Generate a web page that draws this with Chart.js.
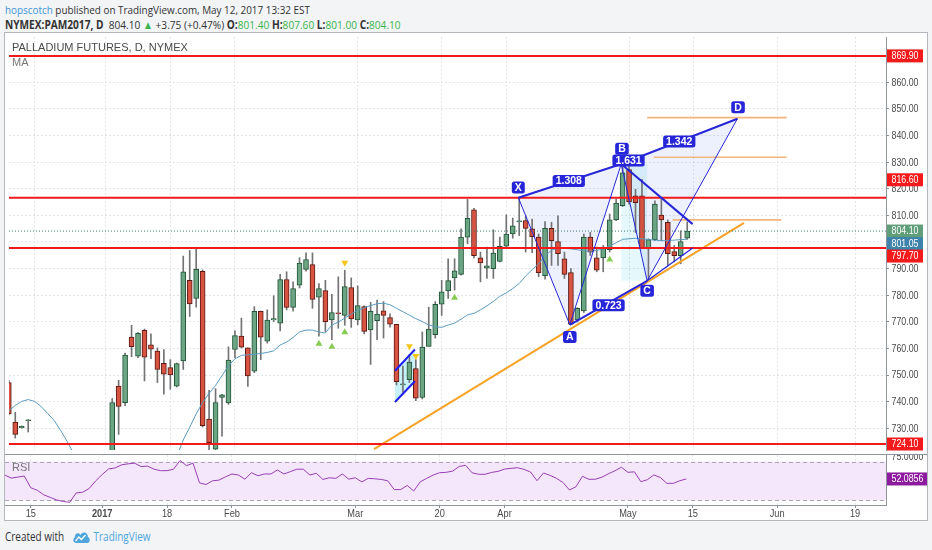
<!DOCTYPE html>
<html><head><meta charset="utf-8">
<script src="https://cdn.jsdelivr.net/npm/chart.js@4.4.0/dist/chart.umd.min.js"></script>
<style>
html,body{margin:0;padding:0;width:932px;height:550px;overflow:hidden;background:#f2f4f6;font-family:"Open Sans","Liberation Sans",Arial,sans-serif;}
#h1{position:absolute;left:5px;top:2px;font-size:11.5px;color:#333;white-space:nowrap;line-height:15px;transform:scaleX(0.86);transform-origin:0 0;}
#h2{position:absolute;left:5px;top:17px;font-size:11.5px;color:#333;white-space:nowrap;line-height:15px;transform:scaleX(0.88);transform-origin:0 0;}
#h2 .g{color:#3ab54a;}
#box{position:absolute;left:4px;top:32px;width:922px;height:487px;background:#fff;border:1px solid #b4b8bd;}
#main{position:absolute;left:0;top:0;}
#rsi{position:absolute;left:0;top:421px;}
#sep{position:absolute;left:0;top:421px;width:922px;height:1px;background:#8f959b;}
.ttl{position:absolute;font-size:11px;color:#4a4a4a;white-space:nowrap;font-family:"Liberation Sans",Arial,sans-serif;}
#foot{position:absolute;left:5px;top:528px;font-size:12px;color:#333;white-space:nowrap;display:flex;align-items:center;transform:scaleX(0.83);transform-origin:0 0;}
#foot .tv{color:#4ea6dc;margin-left:4px;}
</style></head>
<body>
<div id="h1"><span style="color:#3d95d6">hopscotch</span> published on TradingView.com, May 12, 2017 13:32 EST</div>
<div id="h2"><b>NYMEX:PAM2017, D</b>&nbsp; 804.10 <span class="g">&#9650;</span> +3.75 (+0.47%) <b>O:</b><span class="g">801.40</span> <b>H:</b><span class="g">807.60</span> <b>L:</b><span class="g">801.00</span> <b>C:</b><span class="g">804.10</span></div>
<div id="box">
  <canvas id="main" width="922" height="421"></canvas>
  <canvas id="rsi" width="922" height="66"></canvas>
  <div id="sep"></div>
  <div class="ttl" style="left:7px;top:8px;">PALLADIUM FUTURES, D, NYMEX</div>
  <div class="ttl" style="left:7px;top:23px;color:#777;">MA</div>
  <div class="ttl" style="left:7px;top:428px;color:#777;">RSI</div>
</div>
<div id="foot">Created with&nbsp;&nbsp;&nbsp;<svg width="22" height="14" viewBox="0 0 22 14"><path d="M5 13 C1 13 0 9 3 7.5 C3 3 8 2 10 5 C12 1 19 2 19 7 C22 8 22 13 18 13 Z" fill="#4ea6dc"/><path d="M4 11 L8 7 L11 9.5 L16 5" stroke="#fff" stroke-width="1.6" fill="none"/></svg><span class="tv">TradingView</span></div>

<script>
// ---------- DATA ----------
const dates = ['12-09','12-12','12-13','12-14','12-15','12-16','12-19','12-20','12-21','12-22','12-23','12-27','12-28','12-29','12-30',
'01-03','01-04','01-05','01-06','01-09','01-10','01-11','01-12','01-13','01-17','01-18','01-19','01-20','01-23','01-24','01-25','01-26','01-27','01-30','01-31',
'02-01','02-02','02-03','02-06','02-07','02-08','02-09','02-10','02-13','02-14','02-15','02-16','02-17','02-21','02-22','02-23','02-24','02-27','02-28',
'03-01','03-02','03-03','03-06','03-07','03-08','03-09','03-10','03-13','03-14','03-15','03-16','03-17','03-20','03-21','03-22','03-23','03-24','03-27','03-28','03-29','03-30','03-31',
'04-03','04-04','04-05','04-06','04-07','04-10','04-11','04-12','04-13','04-17','04-18','04-19','04-20','04-21','04-24','04-25','04-26','04-27','04-28',
'05-01','05-02','05-03','05-04','05-05','05-08','05-09','05-10','05-11','05-12'];
const N12 = [null,null,null,null,null,null,null,null,null,null,null,null];
const open = [747.2,732.3,730.2,732.9, ...N12,
716.0,745.9,739.6,764.3,757.1,766.8,761.4,759.0,754.4,752.8,
745.8,755.3,785.6,778.8,789.0,733.5,722.2,741.6,739.5,759.6,
764.6,760.2,751.5,773.9,762.7,770.7,769.5,785.9,775.4,783.8,
789.7,791.5,779.3,781.7,770.7,773.4,772.4,782.9,770.7,775.7,
767.0,770.4,774.1,771.6,769.1,746.3,748.3,752.4,741.6,760.8,
765.2,776.6,781.6,786.5,787.8,801.8,812.1,794.0,790.2,790.0,
792.7,798.4,803.0,807.5,808.0,804.9,801.8,787.3,805.1,800.1,
793.7,788.5,770.7,774.1,801.8,794.0,794.0,797.1,808.3,813.6,
827.2,817.3,817.3,797.4,800.9,810.1,807.4,796.4,794.9,801.4];
const high = [748.0,736.0,730.9,733.3, ...N12,
741.2,748.0,758.3,768.7,766.0,767.3,765.5,760.2,759.6,755.8,
754.5,794.7,796.8,797.4,789.5,744.3,744.9,742.8,760.6,766.6,
771.4,760.2,775.7,774.0,774.5,779.8,787.8,788.8,785.0,794.1,
795.9,795.9,784.4,785.6,780.3,786.9,789.4,786.5,783.5,776.0,
777.3,778.2,777.6,773.0,769.1,753.4,757.7,755.8,766.2,775.5,
777.6,785.6,793.7,793.7,804.9,816.0,812.6,796.2,798.1,804.6,
801.8,810.2,809.0,816.6,809.8,808.6,803.0,807.7,807.4,809.8,
796.2,790.0,775.3,803.0,803.6,798.1,798.7,810.5,816.1,829.6,
828.7,819.8,823.5,801.2,815.5,816.0,808.3,798.7,804.2,807.6];
const low = [735.0,726.3,730.0,728.6, ...N12,
714.0,727.7,738.5,756.9,756.5,747.8,756.2,747.2,742.8,744.7,
745.5,752.1,772.0,775.5,730.5,721.7,721.5,727.0,739.0,756.5,
760.2,745.7,750.9,755.8,762.0,770.1,766.6,774.5,774.0,782.7,
789.0,775.1,764.6,766.4,763.3,767.6,768.7,767.9,768.9,765.5,
754.0,763.3,763.9,768.0,746.3,743.5,747.2,740.4,741.0,760.8,
763.9,772.4,778.8,781.9,787.5,799.3,794.0,785.0,786.3,786.3,
792.5,798.1,801.4,802.4,796.2,796.0,786.9,786.0,791.2,791.2,
786.3,768.9,769.9,773.5,794.9,788.8,788.8,796.2,808.0,813.3,
814.2,803.6,797.4,785.6,800.5,800.5,791.2,792.5,791.8,801.0];
const close = [735.4,727.7,730.7,733.2, ...N12,
739.7,738.2,757.5,760.7,765.7,756.7,759.7,752.1,750.3,750.1,
754.3,788.8,776.7,789.7,731.0,724.6,739.7,742.6,755.6,764.8,
760.5,749.7,773.9,764.2,770.7,771.2,785.9,775.4,782.5,792.1,
793.4,778.4,782.5,770.1,773.5,773.1,783.2,771.1,776.1,766.4,
773.9,772.9,772.4,769.1,747.5,746.7,754.9,741.3,760.5,767.3,
776.6,781.3,785.5,789.2,801.8,808.9,794.9,792.1,791.0,795.8,
798.4,803.0,806.1,807.9,805.1,802.0,788.5,805.1,800.5,795.6,
787.8,769.1,775.1,801.8,796.2,789.4,797.7,808.3,814.6,826.0,
815.0,814.8,797.7,800.9,814.2,808.3,795.6,794.9,800.1,804.1];
const N14 = [null,null,null,null,null,null,null,null,null,null,null,null,null,null];
const ma = [736.6,738.6,740.1,740.8,740.1,738.2,735.6,733.0,729.3,725.2,720.7,716.0, ...N14,
719.5,725.6,730.4,735.4,739.7,743.1,746.1,749.8,753.5,756.1,
757.4,757.6,757.8,758.1,758.5,759.1,761.3,762.4,764.1,766.2,
766.9,766.9,766.2,765.8,768.8,769.9,771.4,772.9,774.3,775.3,
776.1,776.8,777.0,776.4,775.1,773.8,772.5,771.2,770.1,768.8,
768.2,767.9,768.8,769.5,771.0,772.6,773.2,774.5,776.0,777.7,
779.6,780.9,782.5,784.4,787.2,789.6,791.8,794.8,796.9,797.7,
797.6,797.4,797.1,796.7,796.5,796.8,797.4,798.5,799.7,801.0,
801.2,801.4,801.2,800.9,800.7,800.5,800.5,800.7,800.9,801.05];
const rsi = [56.1,53.0,54.0,55.1,43.1,40.5,35.8,33.2,30.5,29.0,
28.2,37.8,38.5,42.3,50.1,56.6,62.4,63.4,66.6,67.6,
68.3,64.8,65.3,62.1,60.6,60.6,62.1,71.0,65.8,68.3,
48.1,46.4,50.2,50.9,54.3,57.2,56.1,51.9,58.5,55.4,
57.2,57.2,61.3,57.2,59.6,62.1,62.1,56.1,57.9,51.6,
53.3,52.7,57.2,51.9,53.3,49.1,52.7,52.3,51.6,50.2,
41.2,41.2,45.4,39.7,49.1,52.7,56.1,58.5,58.9,60.1,
64.9,66.1,58.4,56.9,56.9,58.8,59.9,62.2,63.0,63.6,
61.9,59.2,50.3,58.2,55.8,52.8,48.5,40.8,44.1,54.8,
51.7,51.8,53.9,57.4,60.5,64.1,58.9,59.4,49.3,51.3,
56.2,53.6,47.6,47.6,50.3,52.0856];

// x-axis tick positions (bar index) and labels
const tickPos  = [4, 15, 25, 35, 54, 67, 77, 96, 106, 119, 131];
const tickText = ['15','2017','18','Feb','Mar','20','Apr','May','15','Jun','19'];
const yTicks = [730,740,750,760,770,780,790,800,810,820,830,840,850,860,870];
const rsiTicks = [75];

// horizontal levels
const redLevels = [869.9, 816.6, 797.7, 724.1];
const lastPrice = 804.1;
const maLast = 801.05;
const rsiLast = 52.0856;

// XABCD pattern
const patName  = ['X','A','B','C','D'];
const patIdx   = [78.87, 86.83, 94.79, 98.8, 112.77];
const patPrice = [816.6, 768.9, 829.3, 785.4, 846.3];
const ratioText  = ['1.308','1.631','1.342','0.723'];
const ratioIdx   = [86.67, 95.92, 103.77, 92.83];
const ratioPrice = [822.9, 830.6, 837.7, 776.2];
const letterIdx   = [78.86, 86.83, 94.9, 98.8, 112.87];
const letterPrice = [820.5, 764.3, 835.0, 781.7, 850.6];

// wedge lines
const wedgeTopIdx = [94.79, 105.84], wedgeTopPrice = [829.3, 806.7];
const wedgeBotIdx = [98.8, 105.84],  wedgeBotPrice = [785.4, 797.7];
// orange lines
const trendIdx = [56.53, 113.79], trendPrice = [722.2, 807.2];
const orangeLevels = [846.7, 831.8, 808.3];
const orangeStart  = [98.8, 99.83, 102.76];
const orangeEnd    = [120.4, 120.4, 119.6];
// flag
const flagIdx = [59.77, 62.85];
const flagUpper = [751.6, 759.6];
const flagLower = [739.9, 747.7];
// pattern markers
const upMarkIdx = [48, 50, 52, 69, 93],  upMarkPrice = [761.8, 760.6, 766.1, 779.0, 793.4];
const downMarkIdx = [52, 62, 63],        downMarkPrice = [792.2, 760.8, 757.2];

// price tags on the axis
const tagValues = [869.9, 816.6, lastPrice, maLast, 797.7, 724.1];
const tagTexts  = ['869.90','816.60','804.10','801.05','797.70','724.10'];
const tagColors = ['#f21a1a','#f21a1a','#5f9e79','#3d83ab','#f21a1a','#f21a1a'];
const tagNudge  = [0,-18,0,0,0,0];

// ---------- STYLE ----------
const X_MIN = 0.03, X_MAX = 135.77;
const Y_MIN = 721.85, Y_MAX = 877.0;
const RSI_MIN = 25.38, RSI_MAX = 76.67;
const UP = '#6ba583', UPB = '#225437', DN = '#d75442', DNB = '#5b1a13', WICK = '#737375';
const BLUE = '#2626d8';
const FONT = '"Liberation Sans", Arial, sans-serif';
const SQUEEZE = 0.84;

// ---------- BUILD ----------
const wickData = [], bodyData = [], bodyFill = [], bodyBorder = [];
for (let k = 0; k < open.length; k++) {
  if (open[k] == null) continue;
  wickData.push({x: k, y: [low[k], high[k]]});
  bodyData.push({x: k, y: [open[k], close[k]]});
  const up = close[k] >= open[k];
  bodyFill.push(up ? UP : DN);
  bodyBorder.push(up ? UPB : DNB);
}
function pts(xs, ys) { return xs.map((x, i) => ({x: x, y: ys[i]})); }
function seg(data, color, width, dash, order) {
  return {type: 'line', data: data, borderColor: color, borderWidth: width, borderDash: dash || [],
    pointRadius: 0, fill: false, tension: 0, order: order == null ? 1 : order, spanGaps: false};
}
const datasets = [
  {type: 'bar', data: wickData, backgroundColor: WICK, barThickness: 1, grouped: false, order: 6, borderWidth: 0},
  {type: 'bar', data: bodyData, backgroundColor: bodyFill, borderColor: bodyBorder, borderWidth: 1,
   borderSkipped: false, barThickness: 5, grouped: false, order: 5},
  seg(ma.map((v, k) => ({x: k, y: v})), '#5a9cc0', 1, [], 4),
];
redLevels.forEach(v => datasets.push(seg(pts([X_MIN, X_MAX], [v, v]), '#f21a1a', 2, [], 3)));
datasets.push(seg(pts([X_MIN, X_MAX], [lastPrice, lastPrice]), '#3f7f6c', 1, [1, 2], 3));
datasets.push(seg(pts(trendIdx, trendPrice), '#f7a326', 2, [], 3));
orangeLevels.forEach((v, i) => datasets.push(seg(pts([orangeStart[i], orangeEnd[i]], [v, v]), '#f5b57c', 1.6, [], 3)));
datasets.push(seg(pts(patIdx, patPrice), BLUE, 1, [], 2));
datasets.push(seg(pts([patIdx[0], patIdx[2], patIdx[4]], [patPrice[0], patPrice[2], patPrice[4]]), BLUE, 2, [], 2));
datasets.push(seg(pts([patIdx[1], patIdx[3]], [patPrice[1], patPrice[3]]), BLUE, 2, [], 2));
datasets.push(seg(pts(wedgeTopIdx, wedgeTopPrice), BLUE, 2, [], 2));
datasets.push(seg(pts(wedgeBotIdx, wedgeBotPrice), BLUE, 1.3, [], 2));
datasets.push(seg(pts(flagIdx, flagUpper), '#1f1ff2', 2, [], 2));
datasets.push(seg(pts(flagIdx, flagLower), '#1f1ff2', 2, [], 2));
datasets.push({type: 'scatter', data: pts(upMarkIdx, upMarkPrice), pointStyle: 'triangle', pointRadius: 4,
  backgroundColor: '#86cc52', borderWidth: 0, order: 1});
datasets.push({type: 'scatter', data: pts(downMarkIdx, downMarkPrice), pointStyle: 'triangle', rotation: 180, pointRadius: 4,
  backgroundColor: '#f5c61c', borderWidth: 0, order: 1});

function px(chart, i, p) { return [chart.scales.x.getPixelForValue(i), chart.scales.y.getPixelForValue(p)]; }
function polygon(chart, idx, price, fill) {
  const ctx = chart.ctx, a = chart.chartArea;
  ctx.save(); ctx.beginPath(); ctx.rect(a.left, a.top, a.right - a.left, a.bottom - a.top); ctx.clip();
  ctx.beginPath();
  idx.forEach((v, i) => { const [x, y] = px(chart, v, price[i]); i ? ctx.lineTo(x, y) : ctx.moveTo(x, y); });
  ctx.closePath(); ctx.fillStyle = fill; ctx.fill(); ctx.restore();
}
function rr(ctx, x, y, w, h, r) {
  ctx.beginPath(); ctx.moveTo(x + r, y); ctx.lineTo(x + w - r, y); ctx.quadraticCurveTo(x + w, y, x + w, y + r);
  ctx.lineTo(x + w, y + h - r); ctx.quadraticCurveTo(x + w, y + h, x + w - r, y + h); ctx.lineTo(x + r, y + h);
  ctx.quadraticCurveTo(x, y + h, x, y + h - r); ctx.lineTo(x, y + r); ctx.quadraticCurveTo(x, y, x + r, y); ctx.closePath();
}
// narrow text: horizontally squeezed to match the reference's condensed UI font
function narrowText(ctx, text, x, y, color, align, font) {
  ctx.save(); ctx.font = font || ('10.5px ' + FONT); ctx.fillStyle = color; ctx.textBaseline = 'middle';
  ctx.textAlign = align || 'left';
  ctx.translate(x, y); ctx.scale(SQUEEZE, 1); ctx.fillText(text, 0, 0); ctx.restore();
}
function labelBox(chart, i, p, text) {
  const ctx = chart.ctx; const [x, y] = px(chart, i, p);
  ctx.save(); ctx.font = 'bold 10.5px ' + FONT;
  const w = Math.max(ctx.measureText(text).width + 6, 12), h = 12;
  rr(ctx, x - w / 2, y - h / 2, w, h, 2.5); ctx.fillStyle = BLUE; ctx.fill();
  ctx.fillStyle = '#fff'; ctx.textAlign = 'center'; ctx.textBaseline = 'middle'; ctx.fillText(text, x, y + 0.5);
  ctx.restore();
}
function axisLabels(chart, fmt) {
  const ys = chart.scales.y;
  ys.ticks.forEach(t => narrowText(chart.ctx, fmt(t.value), ys.left + 5.5, ys.getPixelForValue(t.value) + 0.5, '#4a4a4a'));
}
function drawTags(chart, values, texts, colors, nudges) {
  const ctx = chart.ctx, ys = chart.scales.y, left = ys.left;
  const order = values.map((v, i) => i).sort((a, b) => values[b] - values[a]);
  let prev = -1e9; const yPos = [];
  order.forEach(i => { let y = ys.getPixelForValue(values[i]) + nudges[i]; if (nudges[i] === 0 && y < prev + 12.5) y = prev + 12.5; yPos[i] = y; if (nudges[i] === 0) prev = y; });
  ctx.save(); ctx.font = '10.5px ' + FONT;
  values.forEach((v, i) => {
    const y = yPos[i];
    const w = ctx.measureText(texts[i]).width * SQUEEZE + 9;
    ctx.fillStyle = colors[i]; ctx.fillRect(left + 1, y - 6.5, w, 13);
    narrowText(ctx, texts[i], left + 5.5, y + 0.5, '#fff');
  });
  ctx.restore();
}
const mainPlugin = {
  id: 'mainOverlay',
  beforeDatasetsDraw(chart) {
    polygon(chart, [patIdx[0], patIdx[1], patIdx[2]], [patPrice[0], patPrice[1], patPrice[2]], 'rgba(110,130,240,0.12)');
    polygon(chart, [patIdx[2], patIdx[3], patIdx[4]], [patPrice[2], patPrice[3], patPrice[4]], 'rgba(110,130,240,0.12)');
    polygon(chart, [patIdx[2], patIdx[3], patIdx[3], patIdx[2]], [patPrice[2], patPrice[2], patPrice[3], patPrice[3]], 'rgba(40,200,220,0.12)');
    polygon(chart, [flagIdx[0], flagIdx[1], flagIdx[1], flagIdx[0]], [flagUpper[0], flagUpper[1], flagLower[1], flagLower[0]], 'rgba(40,200,230,0.25)');
  },
  afterDatasetsDraw(chart) {
    patName.forEach((t, i) => labelBox(chart, letterIdx[i], letterPrice[i], t));
    ratioText.forEach((t, i) => labelBox(chart, ratioIdx[i], ratioPrice[i], t));
  },
  afterDraw(chart) {
    axisLabels(chart, v => v.toFixed(2));
    drawTags(chart, tagValues, tagTexts, tagColors, tagNudge);
  }
};

Chart.defaults.font.family = FONT;
Chart.defaults.animation = false;

const xCommon = {
  type: 'linear', min: X_MIN, max: X_MAX, offset: false,
  afterBuildTicks: s => { s.ticks = tickPos.map(v => ({value: v})); },
};

new Chart(document.getElementById('main'), {
  type: 'bar',
  data: {datasets: datasets},
  options: {
    responsive: false, animation: false, layout: {padding: 0},
    plugins: {legend: {display: false}, tooltip: {enabled: false}},
    scales: {
      x: Object.assign({}, xCommon, {
        ticks: {display: false},
        grid: {display: true, color: '#e2e5e9', drawTicks: false, offset: false},
        border: {display: false, dash: [2, 2]},
        afterFit: s => { s.height = 0; s.paddingLeft = 0; s.paddingRight = 0; }
      }),
      y: {
        type: 'linear', position: 'right', min: Y_MIN, max: Y_MAX, beginAtZero: false,
        afterBuildTicks: s => { s.ticks = yTicks.map(v => ({value: v})); },
        ticks: {display: false},
        grid: {color: '#e2e5e9', drawTicks: true, tickLength: 3, tickColor: '#8a8f95'},
        border: {display: true, color: '#8f959b', dash: [2, 2]},
        afterFit: s => { s.width = 41; s.paddingTop = 0; s.paddingBottom = 0; }
      }
    }
  },
  plugins: [mainPlugin]
});

const rsiPlugin = {
  id: 'rsiOverlay',
  beforeDatasetsDraw(chart) {
    const ctx = chart.ctx, a = chart.chartArea, ys = chart.scales.y;
    const y70 = ys.getPixelForValue(70), y30 = ys.getPixelForValue(30);
    ctx.save();
    ctx.fillStyle = '#f4e7fc'; ctx.fillRect(a.left, y70, a.right - a.left, y30 - y70);
    ctx.strokeStyle = '#a9a9b0'; ctx.lineWidth = 1; ctx.setLineDash([4, 3]);
    [y70, y30].forEach(y => { ctx.beginPath(); ctx.moveTo(a.left, Math.round(y) + 0.5); ctx.lineTo(a.right, Math.round(y) + 0.5); ctx.stroke(); });
    ctx.restore();
  },
  afterDraw(chart) {
    const xs = chart.scales.x, a = chart.chartArea;
    tickPos.forEach((v, i) => {
      const bold = tickText[i] === '2017';
      narrowText(chart.ctx, tickText[i], xs.getPixelForValue(v), a.bottom + 9, '#4a4a4a', 'center', (bold ? 'bold ' : '') + '11px ' + FONT);
    });
    axisLabels(chart, v => v.toFixed(4));
    drawTags(chart, [rsiLast], ['52.0856'], ['#8d1b9e'], [0]);
  }
};

new Chart(document.getElementById('rsi'), {
  type: 'line',
  data: {datasets: [{data: rsi.map((v, k) => ({x: k, y: v})), borderColor: '#9a3fb3', borderWidth: 1, pointRadius: 0, tension: 0, fill: false}]},
  options: {
    responsive: false, animation: false, layout: {padding: {top: 1, left: 0, right: 0, bottom: 0}},
    plugins: {legend: {display: false}, tooltip: {enabled: false}},
    scales: {
      x: Object.assign({}, xCommon, {
        ticks: {display: false},
        grid: {display: true, color: '#e6e6ea', drawTicks: true, tickLength: 3, tickColor: '#8a8f95'},
        border: {display: true, color: '#8f959b', dash: [2, 2]},
        afterFit: s => { s.height = 15; s.paddingLeft = 0; s.paddingRight = 0; }
      }),
      y: {
        type: 'linear', position: 'right', min: RSI_MIN, max: RSI_MAX,
        afterBuildTicks: s => { s.ticks = rsiTicks.map(v => ({value: v})); },
        ticks: {display: false},
        grid: {display: false},
        border: {display: true, color: '#8f959b'},
        afterFit: s => { s.width = 41; s.paddingTop = 0; s.paddingBottom = 0; }
      }
    }
  },
  plugins: [rsiPlugin]
});
</script>
</body></html>
